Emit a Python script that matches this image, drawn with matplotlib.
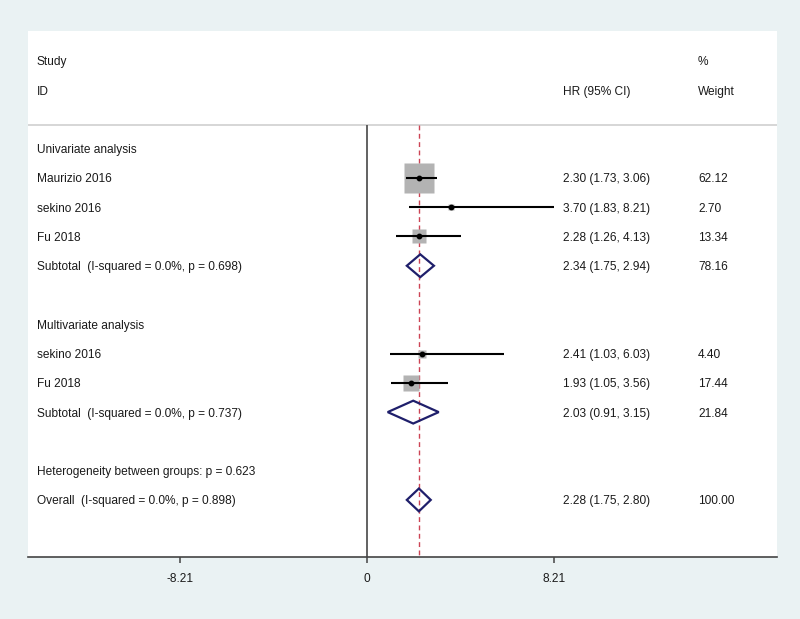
import matplotlib
matplotlib.use("Agg")
import matplotlib.pyplot as plt
from matplotlib.patches import Polygon

plt.rcParams['font.family'] = ['Liberation Sans', 'DejaVu Sans']

# ---- data ----
group_titles = ["Univariate analysis", "Multivariate analysis"]
study_labels = [["Maurizio 2016", "sekino 2016", "Fu 2018"],
                ["sekino 2016", "Fu 2018"]]
study_hr = [[2.30, 3.70, 2.28], [2.41, 1.93]]
study_lo = [[1.73, 1.83, 1.26], [1.03, 1.05]]
study_hi = [[3.06, 8.21, 4.13], [6.03, 3.56]]
study_w = [[62.12, 2.70, 13.34], [4.40, 17.44]]

subtotal_labels = ["Subtotal  (I-squared = 0.0%, p = 0.698)",
                   "Subtotal  (I-squared = 0.0%, p = 0.737)"]
subtotal_hr = [2.34, 2.03]
subtotal_lo = [1.75, 0.91]
subtotal_hi = [2.94, 3.15]
subtotal_w = [78.16, 21.84]

heterogeneity_label = "Heterogeneity between groups: p = 0.623"
overall_label = "Overall  (I-squared = 0.0%, p = 0.898)"
overall_hr = 2.28
overall_lo = 1.75
overall_hi = 2.80
overall_w = 100.00

xticks = [-8.21, 0, 8.21]
xtick_labels = ["-8.21", "0", "8.21"]

# ---- layout ----
W, H = 800, 619
fig = plt.figure(figsize=(W / 100, H / 100), dpi=100)
fig.patch.set_facecolor("#EAF2F3")
ax = fig.add_axes([28 / W, 1 - 557 / H, (777 - 28) / W, (557 - 31) / H])
ax.set_facecolor("white")
ax.set_xlim(-14.88, 18.0)
ax.set_ylim(16.95, -1.02)

x_label = -14.49
x_hr = 8.60
x_w = 14.53
fs = 8.6
tc = "#1A1A1A"
box_k = 2.83  # markersize per sqrt(weight)
diamond_h = 0.39
diamond_col = "#1F1F6B"


def txt(x, y, s):
    ax.text(x, y, s, fontsize=fs, color=tc, ha="left", va="center_baseline")


def fmt(hr, lo, hi):
    return f"{hr:.2f} ({lo:.2f}, {hi:.2f})"


def diamond(hr, lo, hi, y):
    ax.add_patch(Polygon([(lo, y), (hr, y - diamond_h), (hi, y), (hr, y + diamond_h)],
                         closed=True, fill=False, edgecolor=diamond_col, lw=1.6,
                         joinstyle="miter", zorder=4))


# header
txt(x_label, 0, "Study")
txt(x_label, 1, "ID")
txt(x_hr, 1, "HR (95% CI)")
txt(x_w, 0, "%")
txt(x_w, 1, "Weight")
sep_y = 2.19
ax.axhline(sep_y, color="#D0D0D0", lw=1.2, zorder=1)

# reference lines
ax.plot([0, 0], [sep_y, 16.95], color="#555555", lw=1.3, zorder=2, solid_capstyle="butt")
ax.plot([overall_hr, overall_hr], [sep_y, 16.95], color="#CC4455", lw=1.0,
        ls=(0, (3.5, 2.5)), zorder=2)

row = 3
for g in range(len(group_titles)):
    txt(x_label, row, group_titles[g])
    row += 1
    for lab, hr, lo, hi, w in zip(study_labels[g], study_hr[g], study_lo[g],
                                  study_hi[g], study_w[g]):
        txt(x_label, row, lab)
        ax.plot([hr], [row], marker="s", ms=box_k * w ** 0.5, color="#B3B3B3",
                mec="none", zorder=3, ls="none")
        ax.plot([lo, hi], [row, row], color="black", lw=1.5, zorder=5,
                solid_capstyle="butt")
        ax.plot([hr], [row], marker="o", ms=3.2, color="black", zorder=6, ls="none")
        txt(x_hr, row, fmt(hr, lo, hi))
        txt(x_w, row, f"{w:.2f}")
        row += 1
    txt(x_label, row, subtotal_labels[g])
    diamond(subtotal_hr[g], subtotal_lo[g], subtotal_hi[g], row)
    txt(x_hr, row, fmt(subtotal_hr[g], subtotal_lo[g], subtotal_hi[g]))
    txt(x_w, row, f"{subtotal_w[g]:.2f}")
    row += 2

txt(x_label, 14, heterogeneity_label)
txt(x_label, 15, overall_label)
diamond(overall_hr, overall_lo, overall_hi, 15)
txt(x_hr, 15, fmt(overall_hr, overall_lo, overall_hi))
txt(x_w, 15, f"{overall_w:.2f}")

# axes styling
for s in ["top", "left", "right"]:
    ax.spines[s].set_visible(False)
ax.spines["bottom"].set_color("#444444")
ax.spines["bottom"].set_linewidth(1.2)
ax.set_yticks([])
ax.set_xticks(xticks)
ax.set_xticklabels(xtick_labels)
ax.tick_params(axis="x", direction="out", length=4.5, width=1.1, color="#444444",
               labelsize=fs, labelcolor=tc, pad=7)

fig.savefig("out.png", dpi=100, facecolor=fig.get_facecolor())
